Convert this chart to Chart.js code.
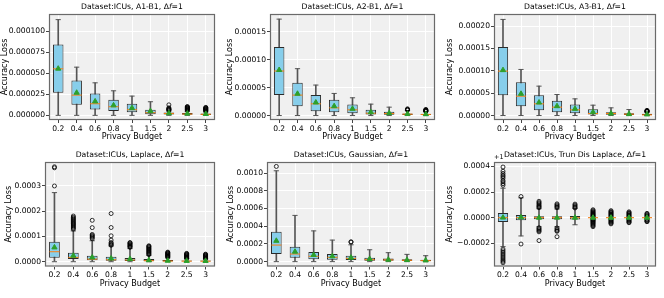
<!DOCTYPE html>
<html>
<head>
<meta charset="utf-8">
<script src="https://cdn.jsdelivr.net/npm/chart.js@4.4.0/dist/chart.umd.min.js"></script>
<style>
    body { margin: 0; background: #ffffff; }
    #wrap { position: relative; width: 664px; height: 298px; }
    .cell { position: absolute; }
</style>
</head>
<body>
<div id="wrap">
    <div class="cell" style="left:0px;top:0px"><canvas id="c1" width="222" height="149"></canvas></div>
    <div class="cell" style="left:222px;top:0px"><canvas id="c2" width="222" height="149"></canvas></div>
    <div class="cell" style="left:444px;top:0px"><canvas id="c3" width="220" height="149"></canvas></div>
    <div class="cell" style="left:0px;top:149px"><canvas id="c4" width="222" height="149"></canvas></div>
    <div class="cell" style="left:222px;top:149px"><canvas id="c5" width="222" height="149"></canvas></div>
    <div class="cell" style="left:444px;top:149px"><canvas id="c6" width="220" height="149"></canvas></div>
</div>
<script>
const budgets = ["0.2", "0.4", "0.6", "0.8", "1", "1.5", "2", "2.5", "3"];

// A1-B1
const a1Low = [0, 0, 0, 0, 0, 0, 0, 0, 0];
const a1Q1 = [26.9e-6, 12.6e-6, 7.1e-6, 5.1e-6, 3.6e-6, 1.2e-6, 0.9e-6, 0.6e-6, 0.4e-6];
const a1Med = [55.3e-6, 24.1e-6, 13.8e-6, 10.3e-6, 6.7e-6, 3.2e-6, 2.2e-6, 1.6e-6, 1.2e-6];
const a1Q3 = [84.2e-6, 41.5e-6, 26.1e-6, 18.6e-6, 13.8e-6, 6.7e-6, 3.4e-6, 2.8e-6, 2.2e-6];
const a1High = [113.8e-6, 57.3e-6, 38.7e-6, 29.2e-6, 22.9e-6, 16.2e-6, 5.0e-6, 4.5e-6, 4.0e-6];
const a1Mean = [55.5e-6, 26.9e-6, 16.6e-6, 11.9e-6, 8.7e-6, 5.1e-6, 2.6e-6, 2.1e-6, 1.7e-6];
const a1Out = [[], [], [], [], [], [],
    [12.5e-6, 9e-6, 8e-6, 7.5e-6, 7e-6, 6.5e-6, 6e-6],
    [10.5e-6, 10e-6, 9.5e-6, 9e-6, 8.5e-6, 8e-6, 7.5e-6, 7e-6, 6.5e-6, 6e-6],
    [9.5e-6, 9e-6, 8.5e-6, 8e-6, 7.5e-6, 7e-6, 6.5e-6, 6e-6, 5.5e-6, 5e-6]];
const a1Ticks = [0, 0.000025, 0.00005, 0.000075, 0.0001];

// A2-B1
const a2Low = [0, 0, 0, 0, 0, 0, 0, 0, 0];
const a2Q1 = [36.6e-6, 16.8e-6, 7.8e-6, 6e-6, 4.2e-6, 1.8e-6, 1.2e-6, 1e-6, 0.8e-6];
const a2Med = [79.8e-6, 36.6e-6, 21e-6, 13.8e-6, 10.2e-6, 4.2e-6, 3.6e-6, 2.4e-6, 1.8e-6];
const a2Q3 = [123e-6, 58.8e-6, 36.6e-6, 28.2e-6, 19.8e-6, 10.2e-6, 6.6e-6, 3.6e-6, 3e-6];
const a2High = [172.8e-6, 84e-6, 54.6e-6, 39.6e-6, 31.8e-6, 20.4e-6, 15e-6, 9e-6, 7e-6];
const a2Mean = [81.6e-6, 39e-6, 23.4e-6, 16.8e-6, 12e-6, 6e-6, 4.2e-6, 2.9e-6, 2.4e-6];
const a2Out = [[], [], [], [], [], [], [],
    [12e-6, 11e-6, 10.5e-6, 9.5e-6],
    [11e-6, 10e-6, 9.5e-6, 9e-6, 8.5e-6, 8e-6, 7.5e-6]];
const a2Ticks = [0, 0.00005, 0.0001, 0.00015];

// A3-B1
const a3Low = [0, 0, 0, 0, 0, 0, 0, 0, 0];
const a3Q1 = [45.5e-6, 20.9e-6, 11.9e-6, 7.5e-6, 5.2e-6, 2.2e-6, 1.5e-6, 1e-6, 0.7e-6];
const a3Med = [99.3e-6, 43.3e-6, 26.1e-6, 18.7e-6, 12.7e-6, 4.5e-6, 4.5e-6, 3e-6, 1.5e-6];
const a3Q3 = [153e-6, 74.6e-6, 45.5e-6, 32.8e-6, 24.6e-6, 14.2e-6, 7.5e-6, 5.2e-6, 3.7e-6];
const a3High = [214.9e-6, 103e-6, 65.7e-6, 47e-6, 37.3e-6, 23.1e-6, 17.2e-6, 13.4e-6, 7.5e-6];
const a3Mean = [101.5e-6, 48.5e-6, 29.1e-6, 20.9e-6, 14.9e-6, 7.5e-6, 4.5e-6, 3.2e-6, 2.5e-6];
const a3Out = [[], [], [], [], [], [], [], [],
    [11.5e-6, 11e-6, 10e-6, 9.5e-6, 9e-6, 8.5e-6]];
const a3Ticks = [0, 0.00005, 0.0001, 0.00015, 0.0002];

// Laplace
const lapLow = [0, 0, 0, 0, 0, 0, 0, 0, 0];
const lapQ1 = [15.8e-6, 10.5e-6, 5.3e-6, 3.9e-6, 2.6e-6, 1.5e-6, 1e-6, 0.8e-6, 0.7e-6];
const lapMed = [39.5e-6, 17e-6, 10.5e-6, 7.9e-6, 6.6e-6, 3.9e-6, 2.6e-6, 2.2e-6, 1.9e-6];
const lapQ3 = [79e-6, 35.5e-6, 23.7e-6, 19.7e-6, 14.5e-6, 10.5e-6, 6.5e-6, 5.2e-6, 4.5e-6];
const lapHigh = [273.7e-6, 122e-6, 83e-6, 62e-6, 52e-6, 25e-6, 15e-6, 12e-6, 11e-6];
const lapMean = [56.6e-6, 23.7e-6, 17e-6, 13e-6, 10.5e-6, 6e-6, 4e-6, 3.2e-6, 2.8e-6];
const lapOut = [
    [300e-6, 372e-6, 376e-6],
    [129e-6, 133e-6, 137e-6, 141e-6, 145e-6, 149e-6, 152e-6, 156e-6, 160e-6, 164e-6, 168e-6, 172e-6, 176e-6, 181e-6],
    [164e-6, 135e-6, 108e-6, 104e-6, 100e-6, 96e-6, 91e-6],
    [190.8e-6, 135.5e-6, 102.6e-6, 85.5e-6, 76e-6, 72e-6, 68e-6, 65e-6],
    [76e-6, 74e-6, 71e-6, 68e-6, 65e-6, 62e-6, 59e-6, 57e-6],
    [63e-6, 61e-6, 58e-6, 55e-6, 52e-6, 49e-6, 46e-6, 43e-6, 40e-6, 37e-6, 34e-6, 31e-6, 28e-6],
    [38e-6, 36e-6, 34e-6, 32e-6, 30e-6, 28e-6, 26e-6, 24e-6, 22e-6, 20e-6, 18e-6],
    [33e-6, 31e-6, 29e-6, 27e-6, 25e-6, 23e-6, 21e-6, 19e-6, 17e-6, 15e-6, 13e-6],
    [30e-6, 28e-6, 26e-6, 24e-6, 22e-6, 20e-6, 18e-6, 16e-6, 14e-6, 12e-6]];
const lapTicks = [0, 0.0001, 0.0002, 0.0003];

// Gaussian
const gauLow = [0, 0, 0, 0, 0, 0, 0, 0, 0];
const gauQ1 = [86e-6, 45e-6, 26e-6, 22e-6, 19e-6, 11e-6, 9e-6, 7e-6, 5e-6];
const gauMed = [187e-6, 86e-6, 60e-6, 49e-6, 37e-6, 22e-6, 19e-6, 15e-6, 11e-6];
const gauQ3 = [336e-6, 168e-6, 108e-6, 86e-6, 67e-6, 45e-6, 34e-6, 26e-6, 22e-6];
const gauHigh = [1026e-6, 522e-6, 347e-6, 243e-6, 190e-6, 134e-6, 101e-6, 82e-6, 67e-6];
const gauMean = [235e-6, 112e-6, 75e-6, 60e-6, 45e-6, 30e-6, 22e-6, 18e-6, 14e-6];
const gauOut = [[1075e-6], [], [], [], [224e-6, 220e-6], [], [], [], []];
const gauTicks = [0, 0.0002, 0.0004, 0.0006, 0.0008, 0.001];

// Trun Dis Laplace (values sit around 1)
const tdlLow = [0.999775, 0.999858, 0.99993, 0.99993, 0.999945, 0.999992, 0.999993, 0.999994, 0.999995];
const tdlQ1 = [0.999966, 0.99998, 0.999988, 0.999988, 0.999987, 0.9999975, 0.999998, 0.999998, 0.9999985];
const tdlMed = [1, 1, 1, 1, 1, 1, 1, 1, 1];
const tdlQ3 = [1.000036, 1.000022, 1.000012, 1.000012, 1.000013, 1.0000025, 1.000002, 1.000002, 1.0000015];
const tdlHigh = [1.00023, 1.000155, 1.00007, 1.000068, 1.000072, 1.000008, 1.000007, 1.000006, 1.000005];
const tdlMean = [1.000001, 1.000003, 1, 1, 1, 1, 1, 1, 1];
const tdlOut = [
    [1.000395, 1.000362, 1.000345, 1.000331, 1.00032, 1.000308, 1.00029, 1.000279, 1.000265, 1.000253,
     0.999755, 0.999742, 0.99973, 0.999718, 0.999706, 0.999694, 0.999682, 0.99967, 0.99966, 0.999649],
    [1.000165, 0.999795],
    [1.000128, 1.000118, 1.00011, 1.0001, 1.000092, 1.000085, 1.000078, 0.999922, 0.999914, 0.999906, 0.999898, 0.99989, 0.999822],
    [1.000108, 1.0001, 1.000092, 1.000085, 1.000078, 0.99992, 0.99991, 0.9999, 0.999894, 0.999852],
    [1.000106, 1.000098, 1.00009, 1.000082, 1.000076],
    [1.000062, 1.000055, 1.000048, 1.000042, 1.000036, 1.00003, 1.000025, 1.00002, 1.000015, 1.00001,
     0.99999, 0.999985, 0.99998, 0.999975, 0.99997, 0.999964, 0.999958, 0.999952, 0.999945, 0.999938, 0.99993],
    [1.000055, 1.000048, 1.000042, 1.000036, 1.00003, 1.000024, 1.000018, 1.000012,
     0.999988, 0.999982, 0.999976, 0.99997, 0.999964, 0.999958, 0.999952],
    [1.000046, 1.00004, 1.000034, 1.000028, 1.000022, 1.000016, 1.00001,
     0.99999, 0.999984, 0.999978, 0.999972, 0.999966, 0.999961],
    [1.000034, 1.000028, 1.000022, 1.000016, 1.00001, 0.99999, 0.999984, 0.999978, 0.999972, 0.999969]];
const tdlTicks = [0.9998, 1, 1.0002, 1.0004];

const FONT = "DejaVu Sans";

const panels = [
    { id: "c1", name: "A1-B1", low: a1Low, q1: a1Q1, med: a1Med, q3: a1Q3, high: a1High, mean: a1Mean, out: a1Out,
      ticks: a1Ticks, digits: 6, min: -5.5e-6, max: 120.5e-6, yw: 49, padR: 7, padT: 14, padB: 7, titlePad: 0.5 },
    { id: "c2", name: "A2-B1", low: a2Low, q1: a2Q1, med: a2Med, q3: a2Q3, high: a2High, mean: a2Mean, out: a2Out,
      ticks: a2Ticks, digits: 5, min: -8e-6, max: 182e-6, yw: 48, padR: 9, padT: 14, padB: 7, titlePad: 3 },
    { id: "c3", name: "A3-B1", low: a3Low, q1: a3Q1, med: a3Med, q3: a3Q3, high: a3High, mean: a3Mean, out: a3Out,
      ticks: a3Ticks, digits: 5, min: -10e-6, max: 227e-6, yw: 50, padR: 8, padT: 14, padB: 7, titlePad: 1.5 },
    { id: "c4", name: "Laplace", low: lapLow, q1: lapQ1, med: lapMed, q3: lapQ3, high: lapHigh, mean: lapMean, out: lapOut,
      ticks: lapTicks, digits: 4, min: -19e-6, max: 395e-6, yw: 45, padR: 7, padT: 13, padB: 9.5, titlePad: 4 },
    { id: "c5", name: "Gaussian", low: gauLow, q1: gauQ1, med: gauMed, q3: gauQ3, high: gauHigh, mean: gauMean, out: gauOut,
      ticks: gauTicks, digits: 4, min: -55e-6, max: 1125e-6, yw: 45, padR: 9, padT: 13, padB: 9.5, titlePad: 4 },
    { id: "c6", name: "Trun Dis Laplace", low: tdlLow, q1: tdlQ1, med: tdlMed, q3: tdlQ3, high: tdlHigh, mean: tdlMean, out: tdlOut,
      ticks: tdlTicks, digits: 4, offset: 1, min: 0.99962, max: 1.000434, yw: 50, padR: 8, padT: 13, padB: 9.5, titlePad: 1 }
];

function panelPlugin(p) {
    return {
        id: "panelDeco",
        beforeDraw(chart) {
            const a = chart.chartArea;
            const ctx = chart.ctx;
            ctx.save();
            ctx.fillStyle = "#f0f0f0";
            ctx.fillRect(a.left, a.top, a.right - a.left, a.bottom - a.top);
            ctx.restore();
        },
        afterDraw(chart) {
            const a = chart.chartArea;
            const ctx = chart.ctx;
            ctx.save();
            ctx.strokeStyle = "#6a6a6a";
            ctx.lineWidth = 1.2;
            ctx.strokeRect(a.left + 0.5, a.top + 0.5, a.right - a.left - 1, a.bottom - a.top - 1);

            // title with italic f in Δf
            const parts = [
                ["Dataset:ICUs, " + p.name + ", \u0394", "normal"],
                ["f", "italic"],
                ["=1", "normal"]
            ];
            let total = 0;
            parts.forEach((part) => {
                ctx.font = part[1] + " 7.7px '" + FONT + "'";
                total += ctx.measureText(part[0]).width;
            });
            let x = (a.left + a.right) / 2 - total / 2;
            ctx.fillStyle = "#000";
            ctx.textBaseline = "middle";
            ctx.textAlign = "left";
            parts.forEach((part) => {
                ctx.font = part[1] + " 7.7px '" + FONT + "'";
                ctx.fillText(part[0], x, a.top - 7);
                x += ctx.measureText(part[0]).width;
            });

            if (p.offset) {
                ctx.font = "6.5px '" + FONT + "'";
                ctx.textBaseline = "bottom";
                ctx.fillText("+1", a.left, a.top - 1);
            }
            ctx.restore();
        }
    };
}

function drawPanel(p) {
    const caps = [];
    const outliers = [];
    budgets.forEach((b, i) => {
        caps.push({ x: b, y: p.low[i] });
        caps.push({ x: b, y: p.high[i] });
        p.out[i].forEach((v) => outliers.push({ x: b, y: v }));
    });

    const pointSet = (data, extra) => Object.assign({
        type: "line",
        data: data,
        showLine: false,
        pointBorderWidth: 1
    }, extra);

    new Chart(document.getElementById(p.id), {
        type: "bar",
        data: {
            labels: budgets,
            datasets: [
                {
                    data: p.low.map((v, i) => [v, p.high[i]]),
                    backgroundColor: "#555555",
                    barThickness: 1,
                    grouped: false,
                    order: 6
                },
                {
                    data: p.q1.map((v, i) => [v, p.q3[i]]),
                    backgroundColor: "#87ceeb",
                    borderColor: "#2a2a2a",
                    borderWidth: 1,
                    borderSkipped: false,
                    barPercentage: 0.57,
                    categoryPercentage: 1,
                    grouped: false,
                    order: 5
                },
                pointSet(caps, { pointStyle: "line", pointRadius: 2.6, pointBorderColor: "#555555", order: 4 }),
                pointSet(p.med.map((v, i) => ({ x: budgets[i], y: v })),
                    { pointStyle: "line", pointRadius: 5, pointBorderColor: "#ff7f0e", order: 3 }),
                pointSet(outliers, { pointStyle: "circle", pointRadius: 2, pointBorderWidth: 0.8,
                    pointBackgroundColor: "rgba(0,0,0,0)", pointBorderColor: "#000000", order: 2 }),
                pointSet(p.mean.map((v, i) => ({ x: budgets[i], y: v })),
                    { pointStyle: "triangle", pointRadius: 3, pointBackgroundColor: "#2ca02c",
                      pointBorderColor: "#2ca02c", order: 1 })
            ]
        },
        options: {
            responsive: false,
            animation: false,
            events: [],
            layout: { padding: { left: 0, right: p.padR, top: p.padT, bottom: p.padB } },
            plugins: { legend: { display: false }, tooltip: { enabled: false }, title: { display: false } },
            scales: {
                x: {
                    offset: true,
                    border: { display: false },
                    grid: { offset: false, color: "#ffffff", lineWidth: 1, tickColor: "#444444", tickLength: 3 },
                    ticks: { color: "#000", font: { family: FONT, size: 7.6 }, padding: 1, maxRotation: 0, autoSkip: false },
                    title: { display: true, text: "Privacy Budget", color: "#000", font: { family: FONT, size: 8 }, padding: 0 },
                    afterFit: (s) => { s.height = 22; }
                },
                y: {
                    min: p.min,
                    max: p.max,
                    border: { display: false },
                    grid: { color: "#ffffff", lineWidth: 1, tickColor: "#444444", tickLength: 3 },
                    afterBuildTicks: (s) => { s.ticks = p.ticks.map((v) => ({ value: v })); },
                    ticks: {
                        color: "#000",
                        font: { family: FONT, size: 7.6 },
                        padding: 1,
                        callback: (v) => {
                            const shown = p.offset ? v - p.offset : v;
                            return shown.toFixed(p.digits).replace("-", "\u2212");
                        }
                    },
                    title: { display: true, text: "Accuracy Loss", color: "#000", font: { family: FONT, size: 8 },
                        padding: { top: p.titlePad, bottom: 0 } },
                    afterFit: (s) => { s.width = p.yw; }
                }
            }
        },
        plugins: [panelPlugin(p)]
    });
}

panels.forEach(drawPanel);
</script>
</body>
</html>
